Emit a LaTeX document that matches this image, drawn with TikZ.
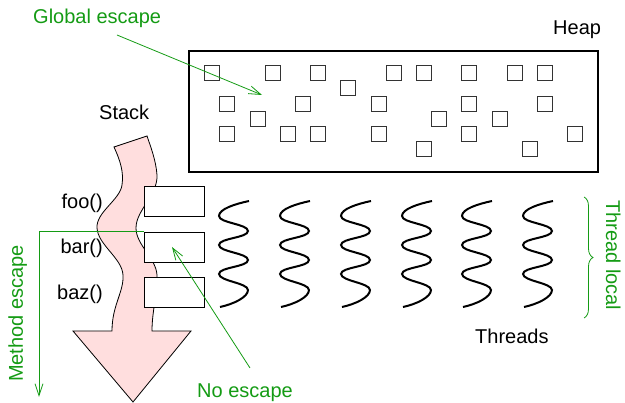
\documentclass[tikz,border=0pt]{standalone}
\usepackage{fontspec}
\setmainfont{Liberation Sans}
\usetikzlibrary{arrows.meta,decorations.pathreplacing}
\definecolor{escgreen}{RGB}{20,155,20}
\definecolor{stackpink}{RGB}{255,222,222}
\tikzset{
  obj/.style={draw=black!80, line width=0.9pt, minimum size=15pt, inner sep=0pt},
  frame/.style={draw, fill=white, line width=0.8pt, minimum width=60pt, minimum height=30pt, inner sep=0pt},
  lbl/.style={inner sep=0pt},
  note/.style={inner sep=0pt, text=escgreen},
  esc/.style={draw=escgreen, line width=0.8pt, -{Straight Barb[length=12pt,width=8pt]}},
  thread/.style={line width=2pt},
}

\begin{document}
\begin{tikzpicture}[x=1pt, y=-1pt, font=\fontsize{20}{24}\selectfont]
    \useasboundingbox (0,0) rectangle (625,403);
    % heap and its objects
    \draw[line width=2pt] (189,51) rectangle (598,172);
    \node[lbl, anchor=base west] (heap) at (553,35) {Heap};
    \foreach \x/\y [count=\i] in {212/73, 273/73, 318/73, 394/73, 424/73, 469/73, 515/73, 545/73,
        348/88, 227/103.5, 303/103.5, 379/103.5, 469/103.5, 545/103.5,
        258/118.5, 439/118.5, 500/118.5,
        227/133.5, 288/133.5, 318/133.5, 379/133.5, 469/133.5, 575/133.5,
        424/149, 530/149}
        \node[obj] (obj\i) at (\x,\y) {};
    % stack
    \draw[fill=stackpink, line width=0.8pt] (147,136) -- (114,147)
        .. controls (120,160) and (124,172) .. (122,185)
        .. controls (120,200) and (96,212) .. (97,228)
        .. controls (98,245) and (122,258) .. (123,275)
        .. controls (124,292) and (112,305) .. (112,331)
        -- (73,331) -- (133,402) -- (191,331) -- (152,331)
        .. controls (152,310) and (158,292) .. (157,275)
        .. controls (156,258) and (136,245) .. (136,228)
        .. controls (136,210) and (158,195) .. (157,175)
        .. controls (156,160) and (150,145) .. (147,136) -- cycle;
    \node[lbl, anchor=base west] (stack) at (99,120) {Stack};
    \node[frame] (foo) at (174.5,201.7) {};
    \node[frame] (bar) at (174.5,247) {};
    \node[frame] (baz) at (174.5,292.3) {};
    \node[lbl, anchor=base east] (foolbl) at (103,209) {foo()};
    \node[lbl, anchor=base east] (barlbl) at (103,254) {bar()};
    \node[lbl, anchor=base east] (bazlbl) at (103,299.5) {baz()};
    % threads
    \foreach \t in {219,280,341,402,462,523}
        \draw[thread, shift={(\t,0)}] (30,201) .. controls (16,204) and (0,209) .. (0,216)
            .. controls (0,223) and (29,224) .. (29,231)
            .. controls (29,238) and (0,238) .. (0,245)
            .. controls (0,252) and (29,253) .. (29,260)
            .. controls (29,267) and (0,267) .. (0,274)
            .. controls (0,281) and (29,283) .. (29,290)
            .. controls (29,297) and (15,304) .. (1,307);
    \node[lbl, anchor=base west] (threads) at (475,344) {Threads};
    \draw[escgreen, line width=0.8pt, decorate, decoration={brace, amplitude=9pt}] (584,197) -- (584,318);
    \node[note, rotate=-90, anchor=base west] (local) at (606,200) {Thread local};
    % escapes
    \node[note, anchor=base west] (global) at (33,24) {Global escape};
    \coordinate (gfrom) at (117,35);
    \coordinate (gto) at (262,95);
    \draw[esc] (gfrom) -- (gto);
    \node[note, rotate=90, anchor=base west] (method) at (23,382) {Method escape};
    \coordinate (mto) at (39,397);
    \draw[esc] (bar.north west) -| (mto);
    \node[note, anchor=base west] (noesc) at (197,398) {No escape};
    \coordinate (nfrom) at (250,368);
    \coordinate (nto) at (172,247);
    \draw[esc] (nfrom) -- (nto);
\end{tikzpicture}
\end{document}
